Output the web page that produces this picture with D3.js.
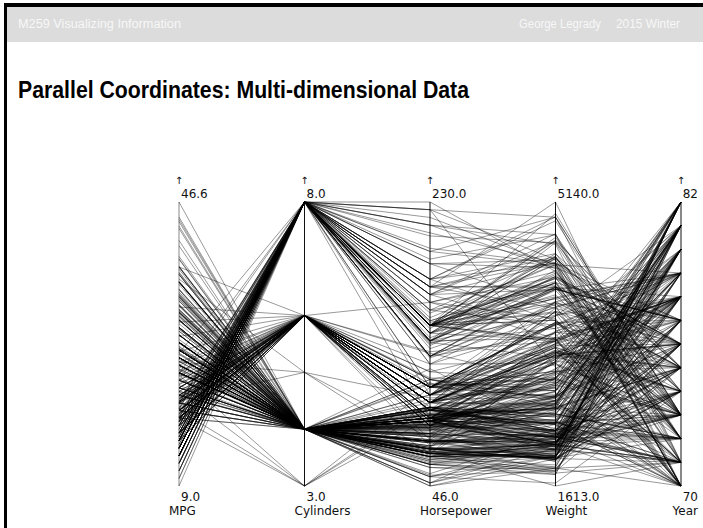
<!DOCTYPE html>
<html>
<head>
<meta charset="utf-8">
<script src="https://cdn.jsdelivr.net/npm/d3@7"></script>
<style>
  html, body { margin: 0; padding: 0; background: #fff; }
  svg { display: block; }
</style>
</head>
<body>
<div id="app"></div>
<script>
// dimensions shown on the parallel axes
const dims = ['MPG', 'Cylinders', 'Horsepower', 'Weight', 'Year'];
const years = [70, 71, 72, 73, 74, 75, 76, 77, 78, 79, 80, 81, 82];

// rows per model year: [mpg, cylinders, horsepower, weight]
const cars70 = [[18,8,130,3504],[15,8,165,3693],[18,8,150,3436],[16,8,150,3433],[17,8,140,3449],[15,8,198,4341],[14,8,220,4354],[14,8,215,4312],[14,8,225,4425],[15,8,190,3850],[15,8,170,3563],[14,8,160,3609],[15,8,150,3761],[14,8,225,3086],[24,4,95,2372],[22,6,95,2833],[18,6,97,2774],[21,6,85,2587],[27,4,88,2130],[26,4,46,1835],[25,4,87,2672],[24,4,90,2430],[25,4,95,2375],[26,4,113,2234],[21,6,90,2648],[10,8,215,4615],[10,8,200,4376],[11,8,210,4382],[9,8,193,4732]];
const cars71 = [[27,4,88,2130],[28,4,90,2264],[25,4,95,2228],[19,6,100,2634],[16,6,105,3439],[17,6,100,3329],[19,6,88,3302],[18,6,100,3288],[14,8,165,4209],[14,8,175,4464],[14,8,153,4154],[14,8,150,4096],[12,8,180,4955],[13,8,170,4746],[13,8,175,5140],[18,6,110,2962],[22,4,72,2408],[19,6,100,3282],[18,6,88,3139],[23,4,86,2220],[28,4,90,2123],[30,4,70,2074],[30,4,76,2065],[31,4,65,1773],[35,4,69,1613],[27,4,60,1834],[26,4,70,1955],[24,4,95,2278],[25,4,80,2126],[23,4,54,2254],[20,4,90,2408],[21,4,86,2226]];
const cars72 = [[13,8,165,4274],[14,8,175,4385],[15,8,150,4135],[14,8,153,4129],[17,8,150,3672],[12,8,160,4456],[13,8,190,4422],[19,3,97,2330],[15,8,150,3892],[13,8,130,4098],[13,8,140,4294],[14,8,150,4077],[21,4,76,2511],[26,4,67,1963],[22,4,86,2395],[28,4,92,2288],[23,4,97,2506],[28,4,80,2164],[27,4,88,2100],[24,4,90,2264],[20,4,91,2582],[21,4,87,2219],[24,4,94,2379],[22,4,85,2310],[18,4,97,2506],[16,6,100,3781],[19,6,110,3329],[11,8,208,4633]];
const cars73 = [[13,8,175,4100],[14,8,150,3672],[13,8,145,3988],[14,8,137,4042],[15,8,150,3777],[12,8,198,4952],[13,8,150,4464],[13,8,158,4363],[14,8,150,4237],[13,8,215,4735],[12,8,225,4951],[13,8,175,3821],[18,6,105,3121],[16,8,230,4278],[18,6,100,2945],[18,6,100,3021],[23,6,100,2904],[26,4,46,1950],[11,8,150,4997],[12,8,180,4499],[13,8,170,4654],[12,8,180,4906],[18,4,85,2310],[20,6,95,3135],[21,4,90,2582],[22,4,88,2400],[18,3,90,2124],[19,4,83,2219],[21,6,95,2472],[26,4,93,2391],[15,8,150,3399],[16,6,100,2933],[29,4,75,2101],[24,4,96,2189],[20,4,97,2279],[19,4,112,2868],[11,8,180,3664],[19,6,110,3645],[28,4,75,2171],[24,4,90,2123]];
const cars74 = [[16,6,100,3278],[15,6,100,3336],[18,6,100,3336],[21,6,110,3039],[20,6,100,3632],[13,8,150,4699],[14,8,150,4457],[14,8,140,4638],[14,8,150,4257],[29,4,83,2219],[26,4,67,1963],[26,4,78,2300],[31,4,52,1649],[32,4,61,2003],[28,4,75,2125],[24,4,75,2108],[26,4,75,2246],[24,4,97,2489],[26,4,93,2391],[31,4,67,1950],[19,6,100,3302],[18,6,105,3221],[15,8,140,4141],[16,8,150,4190],[25,4,79,1963],[27,4,97,2300]];
const cars75 = [[19,6,105,3459],[18,6,95,3264],[15,6,72,3158],[15,8,145,4440],[16,8,150,4668],[15,8,148,4498],[16,8,150,4657],[14,8,145,4440],[17,6,110,3907],[16,6,105,3897],[15,6,95,3785],[18,6,110,3632],[21,6,110,3039],[20,8,130,3870],[13,8,150,3940],[29,4,78,1940],[23,4,83,2395],[20,4,78,2592],[23,4,97,2254],[24,4,90,2202],[25,4,92,2572],[24,4,88,2219],[18,6,100,3233],[29,4,70,1937],[19,6,100,3282],[33,4,53,1795],[28,4,75,2155],[25,4,115,2671],[25,4,81,2220],[26,4,92,2585],[22,4,86,2434]];
const cars76 = [[17.5,8,140,4215],[16,8,150,4190],[15.5,8,152,3962],[14.5,8,145,4215],[22,6,90,3247],[22,6,105,3353],[24,6,100,3025],[22.5,6,105,3233],[29,4,70,1945],[24.5,4,60,2164],[29,4,75,1937],[33,4,83,1990],[20,6,95,3193],[18,6,105,3820],[18.5,6,110,3645],[17.5,6,110,3520],[29.5,4,71,1825],[32,4,70,1990],[28,4,75,2155],[26.5,4,72,2565],[20,4,102,2720],[13,8,150,4199],[19,4,88,2740],[27,4,79,2255],[26,4,88,2234],[25,4,95,2470],[16.5,8,170,4380],[15,8,130,4080],[17,8,140,4080],[23,4,85,2155],[20,6,100,3233],[16,6,100,3781]];
const cars77 = [[19,6,90,3211],[20.2,6,95,3270],[16.5,8,140,4055],[17.5,8,145,3880],[15.5,8,170,4054],[14.5,8,190,4325],[15.5,8,175,4080],[16,8,180,4380],[18.6,6,110,3645],[17,8,160,4060],[25.5,4,89,2300],[30,4,67,1985],[30.5,4,63,2051],[36,4,58,1825],[25.5,4,122,2300],[33.5,4,70,1945],[24,4,82,2220],[21.5,3,110,2720],[26,4,96,2300],[31.5,4,68,2045],[21.5,4,80,2670],[19,4,88,2890],[28,4,80,2164],[24.5,4,88,2065],[15,8,130,4060],[13,8,145,4140],[22,6,105,3353],[17.5,6,110,3520]];
const cars78 = [[43.1,4,48,1985],[36.1,4,66,1800],[32.8,4,52,1985],[39.4,4,70,2070],[36.1,4,60,1800],[19.9,8,110,3365],[19.4,8,140,3735],[20.2,8,139,3570],[19.2,6,105,3535],[20.5,6,95,3155],[20.2,6,85,2965],[25.1,4,88,2720],[20.5,6,100,3430],[19.4,6,90,3210],[20.6,6,105,3380],[20.8,6,85,3070],[18.6,6,110,3620],[18.1,6,120,3410],[19.2,8,145,3425],[17.7,6,165,3445],[18.1,8,139,3205],[17.5,8,140,4080],[30,4,68,2155],[27.5,4,95,2560],[27.2,4,97,2300],[30.9,4,75,2230],[21.1,4,95,2515],[23.2,4,105,2745],[23.8,4,85,2855],[23.9,4,97,2405],[20.3,5,103,2830],[17,6,125,3140],[21.6,4,115,2795],[16.2,6,133,3410],[31.5,4,71,1990],[29.5,4,68,2135],[21.5,6,115,3245],[19.8,6,85,2990],[22.3,4,88,2890],[20.2,6,90,3265]];
const cars79 = [[20.6,6,105,3380],[17,8,130,3840],[17.6,8,129,3725],[16.5,8,138,3955],[18.2,8,135,3830],[16.9,8,155,4360],[15.5,8,142,4054],[19.2,8,125,3605],[18.5,8,150,3940],[31.9,4,71,1925],[34.1,4,65,1975],[35.7,4,80,1915],[27.4,4,80,2670],[25.4,5,77,3530],[23,8,125,3900],[27.2,4,71,3190],[23.9,8,90,3420],[34.2,4,70,2200],[34.5,4,65,2150],[31.8,4,65,2020],[37.3,4,69,2130],[28.4,4,90,2670],[28.8,6,115,2595],[26.8,6,115,2700],[33.5,4,90,2556],[21.5,6,110,2800],[22,4,88,2700],[24.8,4,95,2950],[19.9,8,110,3620]];
const cars80 = [[41.5,4,76,2144],[38.1,4,60,1968],[32.1,4,70,2120],[37.2,4,65,2019],[28,4,90,2678],[26.4,4,88,2870],[24.3,4,90,3003],[19.1,6,90,3381],[34.3,4,78,2188],[29.8,4,90,2711],[31.3,4,75,2542],[37,4,92,2434],[32.2,4,75,2265],[46.6,4,65,2110],[27.9,4,105,2800],[40.8,4,65,2110],[44.3,4,48,2085],[43.4,4,48,2335],[36.4,5,67,2950],[30,4,67,3250],[44.6,4,67,1850],[33.8,4,67,2145],[29.8,4,62,1845],[32.7,6,132,2910],[23.7,3,100,2420],[35,4,88,2500],[32.4,4,72,2290]];
const cars81 = [[27.2,4,84,2490],[26.6,4,84,2635],[25.8,4,92,2620],[23.5,6,110,2725],[30,4,84,2385],[39.1,4,58,1755],[39,4,64,1875],[35.1,4,60,1760],[32.3,4,67,2065],[37,4,65,1975],[37.7,4,62,2050],[34.1,4,88,2395],[34.7,4,88,2045],[34.4,4,88,2065],[29.9,4,65,2380],[33,4,74,2190],[33.7,4,75,2210],[32.4,4,67,2065],[32.9,4,100,2615],[31.6,4,74,2635],[28.1,4,80,3160],[30.7,6,76,3160],[25.4,6,116,2900],[24.2,6,120,2930],[22.4,6,110,3415],[26.6,8,105,3725],[20.2,6,88,3060],[17.6,6,85,3465],[28,4,88,2605],[27,4,88,2640],[34,4,88,2395],[31,4,85,2575],[29,4,84,2525],[27,4,90,2735],[24,4,92,2865],[23,6,82,3035]];
const cars82 = [[36,4,74,1980],[37,4,68,2025],[31,4,68,1970],[38,4,63,2125],[36,4,70,2125],[36,4,88,2160],[36,4,75,2205],[34,4,70,2245],[38,4,67,1965],[32,4,67,1965],[38,4,67,1995],[25,6,110,2945],[38,6,85,3015],[26,4,92,2585],[22,6,112,2835],[32,4,84,2295],[36,4,74,2085],[27,4,90,2950],[27,4,88,2790],[44,4,52,2130],[28,4,79,2625],[31,4,82,2720],[24,4,88,2720],[20,6,100,3180],[28,4,96,2300],[27,4,86,2790]];

const carsByYear = [cars70, cars71, cars72, cars73, cars74, cars75, cars76, cars77, cars78, cars79, cars80, cars81, cars82];

const data = [];
carsByYear.forEach((rows, i) => {
  rows.forEach(r => {
    data.push({ MPG: r[0], Cylinders: r[1], Horsepower: r[2], Weight: r[3], Year: years[i] });
  });
});

const W = 703, H = 528;
const svg = d3.select('#app').append('svg')
    .attr('width', W)
    .attr('height', H);

// slide frame + header bar
svg.append('rect').attr('x', 4).attr('y', 3).attr('width', W - 4).attr('height', 4).attr('fill', '#000');
svg.append('rect').attr('x', 4).attr('y', 3).attr('width', 3).attr('height', H - 3).attr('fill', '#000');
svg.append('rect').attr('x', 7).attr('y', 7).attr('width', W - 7).attr('height', 35).attr('fill', '#dcdcdc');

const headFont = '"Liberation Sans", Arial, sans-serif';
svg.append('text')
    .attr('x', 18).attr('y', 28)
    .attr('font-family', headFont).attr('font-size', 12)
    .attr('fill', '#f7f7f7')
    .attr('textLength', 163).attr('lengthAdjust', 'spacingAndGlyphs')
    .text('M259 Visualizing Information');
svg.append('text')
    .attr('x', 519).attr('y', 28)
    .attr('font-family', headFont).attr('font-size', 12)
    .attr('fill', '#f7f7f7')
    .attr('textLength', 82).attr('lengthAdjust', 'spacingAndGlyphs')
    .text('George Legrady');
svg.append('text')
    .attr('x', 616).attr('y', 28)
    .attr('font-family', headFont).attr('font-size', 12)
    .attr('fill', '#f7f7f7')
    .attr('textLength', 64).attr('lengthAdjust', 'spacingAndGlyphs')
    .text('2015 Winter');

svg.append('text')
    .attr('x', 18).attr('y', 98)
    .attr('font-family', headFont).attr('font-size', 24)
    .attr('font-weight', 'bold')
    .attr('fill', '#000')
    .attr('textLength', 451).attr('lengthAdjust', 'spacingAndGlyphs')
    .text('Parallel Coordinates: Multi-dimensional Data');

// parallel coordinates
const x = d3.scalePoint()
    .domain(dims)
    .range([179, 681]);

const y = {};
dims.forEach(d => {
  y[d] = d3.scaleLinear()
    .domain(d3.extent(data, r => r[d]))
    .range([486, 202]);
});

const line = d3.line();
const path = d => line(dims.map(k => [x(k), y[k](d[k])]));

const g = svg.append('g');

g.selectAll('.axisLine')
  .data(dims)
  .enter().append('line')
    .attr('class', 'axisLine')
    .attr('x1', d => x(d)).attr('x2', d => x(d))
    .attr('y1', 202).attr('y2', 486)
    .attr('stroke', (d, i) => (i === 0 || i === dims.length - 1) ? '#888' : '#111')
    .attr('stroke-width', (d, i) => i === dims.length - 1 ? 2 : 1);

g.append('g')
  .selectAll('path')
  .data(data)
  .enter().append('path')
    .attr('d', path)
    .attr('fill', 'none')
    .attr('stroke', '#000')
    .attr('stroke-opacity', 0.4)
    .attr('stroke-width', 1);

const lblFont = '"DejaVu Sans", Verdana, sans-serif';
const fmt = d => d === 'Year' ? d3.format('d') : d3.format('.1f');
const lastDim = dims[dims.length - 1];

const labels = g.selectAll('.dimLabel')
  .data(dims)
  .enter().append('g')
    .attr('class', 'dimLabel')
    .attr('font-family', lblFont)
    .attr('font-size', 12)
    .attr('fill', '#111');

labels.append('text')
    .attr('x', d => x(d))
    .attr('y', 184)
    .attr('text-anchor', 'middle')
    .attr('font-size', 10)
    .text('↑');

labels.append('text')
    .attr('x', d => d === lastDim ? W - 5 : x(d) + 2)
    .attr('y', 198)
    .attr('text-anchor', d => d === lastDim ? 'end' : 'start')
    .text(d => fmt(d)(y[d].domain()[1]));

labels.append('text')
    .attr('x', d => d === lastDim ? W - 5 : x(d) + 2)
    .attr('y', 501)
    .attr('text-anchor', d => d === lastDim ? 'end' : 'start')
    .text(d => fmt(d)(y[d].domain()[0]));

labels.append('text')
    .attr('x', d => d === lastDim ? W - 5 : x(d) - 10)
    .attr('y', 515)
    .attr('text-anchor', d => d === lastDim ? 'end' : 'start')
    .text(d => d);
</script>
</body>
</html>
